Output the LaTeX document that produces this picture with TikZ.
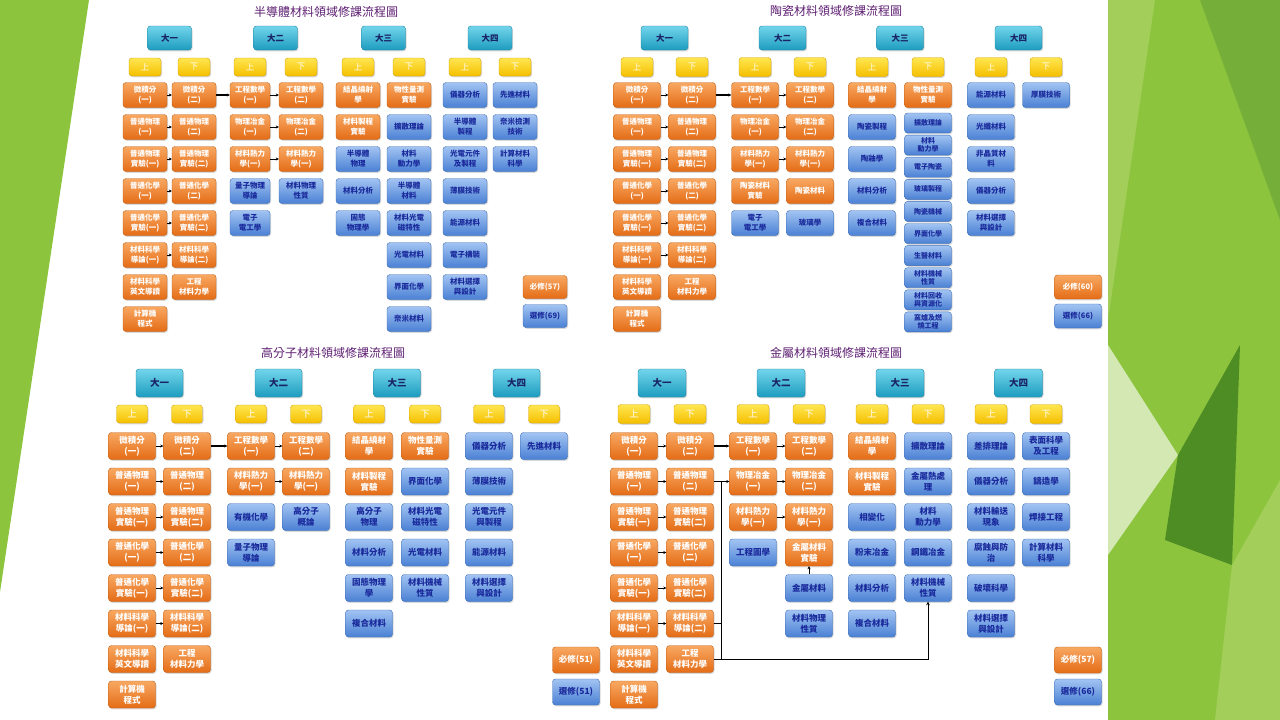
\documentclass[tikz,border=0pt]{standalone}
\usepackage{fontspec}
\newfontfamily\cjk{Noto Sans CJK TC}
\usetikzlibrary{arrows.meta, shadows, calc}

\definecolor{reqtop}{HTML}{F8A862}
\definecolor{reqbot}{HTML}{E46C16}
\definecolor{reqline}{HTML}{C25E12}
\definecolor{eletop}{HTML}{A2C4F2}
\definecolor{elebot}{HTML}{4A80D4}
\definecolor{eleline}{HTML}{3B6CB5}
\definecolor{eletext}{HTML}{1A2A9C}
\definecolor{yrtop}{HTML}{72D5EB}
\definecolor{yrbot}{HTML}{1D9CBF}
\definecolor{yrline}{HTML}{1985A3}
\definecolor{yrtext}{HTML}{1A2366}
\definecolor{semtop}{HTML}{FFE650}
\definecolor{sembot}{HTML}{F5BF00}
\definecolor{semline}{HTML}{D6A300}
\definecolor{ttlpurple}{HTML}{5E1F72}
\definecolor{leaf}{HTML}{8CC43E}
\definecolor{leaflight}{HTML}{A3CE5A}
\definecolor{leafdark}{HTML}{76AE3A}
\definecolor{leafdeep}{HTML}{4E8C24}
\definecolor{leafpale}{HTML}{D3E8B2}

\tikzset{
  box/.style={rounded corners=3pt, inner sep=0.5pt, align=center,
    minimum width=\bw, minimum height=\bh,
    font=\cjk\bfseries\fontsize{\fs}{\fb}\selectfont,
    drop shadow={shadow xshift=1pt, shadow yshift=-1.3pt, opacity=0.3}},
  req/.style={box, top color=reqtop, bottom color=reqbot, draw=reqline, line width=0.4pt, text=white},
  ele/.style={box, top color=eletop, bottom color=elebot, draw=eleline, line width=0.4pt, text=eletext},
  shortbox/.style={minimum height=20pt, font=\cjk\bfseries\fontsize{7}{8.5}\selectfont},
  yr/.style={box, minimum width=\yw, minimum height=\yh, top color=yrtop, bottom color=yrbot,
    draw=yrline, line width=0.4pt, text=yrtext, font=\cjk\bfseries\fontsize{\yfs}{\yfs}\selectfont},
  sem/.style={box, minimum width=\sw, minimum height=\sh, top color=semtop, bottom color=sembot,
    draw=semline, line width=0.4pt, text=white, font=\cjk\fontsize{\yfs}{\yfs}\selectfont},
  ttl/.style={inner sep=0pt, text=ttlpurple, font=\cjk\fontsize{12}{12}\selectfont},
  link/.style={-{Stealth[length=3pt, width=3pt]}, line width=0.8pt},
  bus/.style={line width=1pt},
}

\begin{document}
\begin{tikzpicture}[x=1pt, y=-1pt]
    \useasboundingbox (0,0) rectangle (1280,720);
    % --- 背景 ---
    \fill[white] (0,0) rectangle (1280,720);
    \fill[leaf] (0,0) -- (89,0) -- (0,592) -- cycle;
    \fill[leaf] (1108,0) rectangle (1280,720);
    \fill[leaflight] (1108,0) -- (1155,0) -- (1108,320) -- cycle;
    \fill[leafdark] (1200,0) -- (1280,0) -- (1280,220) -- cycle;
    \fill[leafpale] (1108,345) -- (1178,455) -- (1108,555) -- cycle;
    \fill[leafdeep] (1178,455) -- (1240,345) -- (1232,565) -- (1165,540) -- cycle;
    \fill[leaflight] (1232,565) -- (1280,480) -- (1280,720) -- (1215,720) -- cycle;

    % 年級與學期標頭
    \def\yearhead#1#2#3#4{%
        \node[yr] (#1) at ({(#3+#4)/2}, \yy) {#2};
        \node[sem] (#1u) at (#3, \ys) {上};
        \node[sem] (#1d) at (#4, \ys) {下};
    }
    % 一欄課程
    \def\coursecol#1#2#3{%
        \foreach \st/\txt [count=\r] in {#3}
            \node[\st] (#1\r) at (#2, {\ya+(\r-1)*\dy}) {\txt};
    }
    % 大一共同課程
    \def\firstyear#1#2#3{%
        \foreach \r/\la/\lb in {1/{微積分\\(一)}/{微積分\\(二)}, 2/{普通物理\\(一)}/{普通物理\\(二)},
                3/{普通物理\\實驗(一)}/{普通物理\\實驗(二)}, 4/{普通化學\\(一)}/{普通化學\\(二)},
                5/{普通化學\\實驗(一)}/{普通化學\\實驗(二)}, 6/{材料科學\\導論(一)}/{材料科學\\導論(二)}}{
            \node[req] (#1-a\r) at (#2, {\ya+(\r-1)*\dy}) {\la};
            \node[req] (#1-b\r) at (#3, {\ya+(\r-1)*\dy}) {\lb};
            \draw[link] (#1-a\r) -- (#1-b\r);
        }
        \node[req] (#1-a7) at (#2, {\ya+6*\dy}) {材料科學\\英文導讀};
        \node[req] (#1-b7) at (#3, {\ya+6*\dy}) {工程\\材料力學};
        \node[req] (#1-a8) at (#2, {\ya+7*\dy}) {計算機\\程式};
    }

    % --- 半導體材料 ---
    \def\ya{95}\def\dy{32}\def\bw{44pt}\def\bh{25pt}\def\fs{7.5}\def\fb{10}
    \def\yy{38}\def\ys{67}\def\yw{44pt}\def\yh{24pt}\def\sw{32pt}\def\sh{18pt}\def\yfs{8.5}
    \node[ttl] (s-title) at (326,12) {半導體材料領域修課流程圖};
    \yearhead{s-1}{大一}{145}{194}
    \yearhead{s-2}{大二}{250}{301}
    \yearhead{s-3}{大三}{358}{409}
    \yearhead{s-4}{大四}{465}{515}
    \firstyear{s}{145}{194}
    \def\bw{40pt}
    \coursecol{s-c}{250}{req/{工程數學\\(一)}, req/{物理冶金\\(一)}, req/{材料熱力\\學(一)}, ele/{量子物理\\導論}, ele/{電子\\電工學}}
    \def\bw{44pt}
    \coursecol{s-d}{301}{req/{工程數學\\(二)}, req/{物理冶金\\(二)}, req/{材料熱力\\學(一)}, ele/{材料物理\\性質}}
    \coursecol{s-e}{358}{req/{結晶繞射\\學}, req/{材料製程\\實驗}, ele/{半導體\\物理}, ele/材料分析, ele/{固態\\物理學}}
    \coursecol{s-f}{409}{req/{物性量測\\實驗}, ele/擴散理論, ele/{材料\\動力學}, ele/{半導體\\材料}, ele/{材料光電\\磁特性}, ele/光電材料, ele/界面化學, ele/奈米材料}
    \coursecol{s-g}{465}{ele/儀器分析, ele/{半導體\\製程}, ele/{光電元件\\及製程}, ele/薄膜技術, ele/能源材料, ele/電子構裝, ele/{材料選擇\\與設計}}
    \coursecol{s-h}{515}{ele/先進材料, ele/{奈米檢測\\技術}, ele/{計算材料\\科學}}
    \draw[link, line width=1.2pt] (s-b1) -- (s-c1);
    \foreach \r in {1,2,3} \draw[link] (s-c\r) -- (s-d\r);
    \node[req, minimum height=23pt] (s-req) at (545,287) {必修(57)};
    \node[ele, minimum height=23pt] (s-opt) at (545,316) {選修(69)};

    % --- 陶瓷材料 ---
    \def\bw{47pt}\def\sh{19pt}\def\yw{47pt}
    \node[ttl] (c-title) at (836,11) {陶瓷材料領域修課流程圖};
    \yearhead{c-1}{大一}{637}{692}
    \yearhead{c-2}{大二}{755}{810}
    \yearhead{c-3}{大三}{872}{928}
    \yearhead{c-4}{大四}{991}{1046}
    \firstyear{c}{637}{692}
    \coursecol{c-c}{755}{req/{工程數學\\(一)}, req/{物理冶金\\(一)}, req/{材料熱力\\學(一)}, req/{陶瓷材料\\實驗}, ele/{電子\\電工學}}
    \coursecol{c-d}{810}{req/{工程數學\\(二)}, req/{物理冶金\\(二)}, req/{材料熱力\\學(一)}, req/陶瓷材料, ele/玻璃學}
    \coursecol{c-e}{872}{req/{結晶繞射\\學}, ele/陶瓷製程, ele/陶釉學, ele/材料分析, ele/複合材料}
    \node[req] (c-f1) at (928,95) {物性量測\\實驗};
    \foreach \txt [count=\r from 2] in {擴散理論, {材料\\動力學}, 電子陶瓷, 玻璃製程, 陶瓷機械, 界面化學, 生醫材料,
            {材料機械\\性質}, {材料回收\\與資源化}, {窯爐及燃\\燒工程}}
        \node[ele, shortbox] (c-f\r) at (928, {123+(\r-2)*22.1}) {\txt};
    \coursecol{c-g}{991}{ele/能源材料, ele/光纖材料, ele/{非晶質材\\料}, ele/儀器分析, ele/{材料選擇\\與設計}}
    \coursecol{c-h}{1046}{ele/厚膜技術}
    \draw[link, line width=1.2pt] (c-b1) -- (c-c1);
    \foreach \r in {1,2,3} \draw[link] (c-c\r) -- (c-d\r);
    \node[req, minimum height=24pt] (c-req) at (1078,287) {必修(60)};
    \node[ele, minimum height=24pt] (c-opt) at (1078,316) {選修(66)};

    % --- 高分子材料 ---
    \def\ya{446}\def\dy{35.5}\def\bh{27pt}\def\fs{8.5}\def\fb{11}
    \def\yy{383}\def\ys{414}\def\yh{28pt}\def\sw{31pt}\def\sh{18pt}\def\yfs{9.5}
    \node[ttl] (p-title) at (333,353) {高分子材料領域修課流程圖};
    \yearhead{p-1}{大一}{132}{187}
    \yearhead{p-2}{大二}{251}{306}
    \yearhead{p-3}{大三}{369}{425}
    \yearhead{p-4}{大四}{489}{544}
    \firstyear{p}{132}{187}
    \coursecol{p-c}{251}{req/{工程數學\\(一)}, req/{材料熱力\\學(一)}, ele/有機化學, ele/{量子物理\\導論}}
    \coursecol{p-d}{306}{req/{工程數學\\(二)}, req/{材料熱力\\學(一)}, ele/{高分子\\概論}}
    \coursecol{p-e}{369}{req/{結晶繞射\\學}, req/{材料製程\\實驗}, ele/{高分子\\物理}, ele/材料分析, ele/{固態物理\\學}, ele/複合材料}
    \coursecol{p-f}{425}{req/{物性量測\\實驗}, ele/界面化學, ele/{材料光電\\磁特性}, ele/光電材料, ele/{材料機械\\性質}}
    \coursecol{p-g}{489}{ele/儀器分析, ele/薄膜技術, ele/{光電元件\\與製程}, ele/能源材料, ele/{材料選擇\\與設計}}
    \coursecol{p-h}{544}{ele/先進材料}
    \draw[link, line width=1.2pt] (p-b1) -- (p-c1);
    \foreach \r in {1,2} \draw[link] (p-c\r) -- (p-d\r);
    \node[req, minimum height=26pt] (p-req) at (576,660) {必修(51)};
    \node[ele, minimum height=26pt] (p-opt) at (576,692) {選修(51)};

    % --- 金屬材料 ---
    \def\sw{32pt}\def\sh{19pt}\def\yw{48pt}
    \node[ttl] (m-title) at (836,353) {金屬材料領域修課流程圖};
    \yearhead{m-1}{大一}{634}{690}
    \yearhead{m-2}{大二}{753}{809}
    \yearhead{m-3}{大三}{872}{928}
    \yearhead{m-4}{大四}{991}{1046}
    \firstyear{m}{634}{690}
    \coursecol{m-c}{753}{req/{工程數學\\(一)}, req/{物理冶金\\(一)}, req/{材料熱力\\學(一)}, ele/工程圖學}
    \coursecol{m-d}{809}{req/{工程數學\\(二)}, req/{物理冶金\\(二)}, req/{材料熱力\\學(一)}, req/{金屬材料\\實驗}, ele/金屬材料, ele/{材料物理\\性質}}
    \coursecol{m-e}{872}{req/{結晶繞射\\學}, req/{材料製程\\實驗}, ele/相變化, ele/粉末冶金, ele/材料分析, ele/複合材料}
    \coursecol{m-f}{928}{ele/擴散理論, ele/{金屬熱處\\理}, ele/{材料\\動力學}, ele/鋼鐵冶金, ele/{材料機械\\性質}}
    \coursecol{m-g}{991}{ele/差排理論, ele/儀器分析, ele/{材料輸送\\現象}, ele/{腐蝕與防\\治}, ele/破壞科學, ele/{材料選擇\\與設計}}
    \coursecol{m-h}{1046}{ele/{表面科學\\及工程}, ele/鑄造學, ele/焊接工程, ele/{計算材料\\科學}}
    \draw[link, line width=1.2pt] (m-b1) -- (m-c1);
    \foreach \r in {1,2,3} \draw[link] (m-c\r) -- (m-d\r);
    \draw[link] (m-d5) -- (m-d4);
    % 先修匯流線
    \coordinate (m-bus) at ($(m-b2.east)!0.5!(m-c2.west)$);
    \draw[link, line width=1pt] (m-b2) -- (m-c2);
    \draw[bus] (m-bus) -- (m-bus |- m-b7.east);
    \draw[bus] (m-b6.east) -- (m-b6.east -| m-bus);
    \draw[bus, -{Stealth[length=3.5pt, width=3.5pt]}] (m-b7.east) -| (m-f5.south);
    \node[req, minimum height=26pt] (m-req) at (1078,660) {必修(57)};
    \node[ele, minimum height=26pt] (m-opt) at (1078,692) {選修(66)};
\end{tikzpicture}
\end{document}
